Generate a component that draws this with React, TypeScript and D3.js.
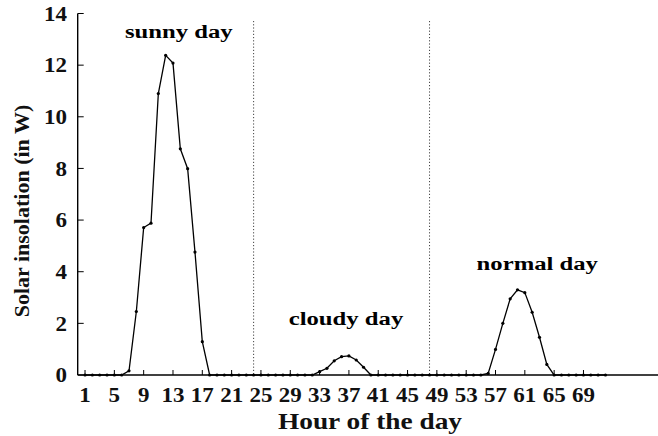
import React from "react";
import * as d3 from "d3";

const sunny = [0, 0, 0, 0, 0, 0, 0.16, 2.46, 5.71, 5.88, 10.9, 12.38, 12.08, 8.76, 7.99, 4.76, 1.29, 0, 0, 0, 0, 0, 0, 0];
const cloudy = [0, 0, 0, 0, 0, 0, 0, 0, 0.13, 0.26, 0.55, 0.71, 0.74, 0.58, 0.3, 0, 0, 0, 0, 0, 0, 0, 0, 0];
const normal = [0, 0, 0, 0, 0, 0, 0, 0.06, 0.99, 2.0, 2.95, 3.3, 3.19, 2.43, 1.46, 0.41, 0, 0, 0, 0, 0, 0, 0, 0];
const xTicks = [1, 5, 9, 13, 17, 21, 25, 29, 33, 37, 41, 45, 49, 53, 57, 61, 65, 69];
const yTicks = [0, 2, 4, 6, 8, 10, 12, 14];
const dayBreaks = [24, 48];
const dayLabels = ["sunny day", "cloudy day", "normal day"];
const labelHours = [13.8, 36.6, 62.7];
const labelValues = [13.05, 1.94, 4.07];

const values = [...sunny, ...cloudy, ...normal];
const data = values.map((v, i) => ({ h: i + 1, v }));

const W = 658, H = 436;
const FONT = "'Liberation Serif', 'Times New Roman', serif";

export default function App() {
  const x = d3.scaleLinear().domain([0, 80]).range([77.7, 77.7 + 80 * 7.33]);
  const y = d3.scaleLinear().domain([0, 14]).range([375, 13.5]);
  const line = d3.line<{ h: number; v: number }>().x(d => x(d.h)).y(d => y(d.v));

  return (
    <svg width={W} height={H} style={{ position: "absolute", left: 0, top: 0, background: "#fff" }}>
      <line x1={x(0)} x2={W} y1={y(0)} y2={y(0)} stroke="#000" strokeWidth={1.4} />
      <line x1={x(0)} x2={x(0)} y1={y(0)} y2={y(14)} stroke="#000" strokeWidth={1.4} />
      {yTicks.map(t => (
        <g key={"y" + t}>
          <line x1={x(0)} x2={x(0) + 6} y1={y(t)} y2={y(t)} stroke="#000" strokeWidth={1} />
          <text transform={`translate(67,${y(t) + 7.3}) scale(1.15,1)`} textAnchor="end"
            fontFamily={FONT} fontWeight="bold" fontSize={20} fill="#111">{t}</text>
        </g>
      ))}
      {xTicks.map(t => (
        <g key={"x" + t}>
          <line x1={x(t)} x2={x(t)} y1={y(0)} y2={y(0) - 5} stroke="#000" strokeWidth={1} />
          <text transform={`translate(${x(t)},402) scale(1.15,1)`} textAnchor="middle"
            fontFamily={FONT} fontWeight="bold" fontSize={20} fill="#111">{t}</text>
        </g>
      ))}
      {dayBreaks.map(b => (
        <line key={"b" + b} x1={x(b)} x2={x(b)} y1={21} y2={y(0)} stroke="#444" strokeWidth={1} strokeDasharray="1.2,2" />
      ))}
      <path d={line(data) || ""} fill="none" stroke="#000" strokeWidth={1.3} />
      {data.map(d => (
        <circle key={"p" + d.h} cx={x(d.h)} cy={y(d.v)} r={1.6} fill="#000" />
      ))}
      {dayLabels.map((l, i) => (
        <text key={l} transform={`translate(${x(labelHours[i])},${y(labelValues[i])}) scale(1.3,1)`} textAnchor="middle"
          fontFamily={FONT} fontWeight="bold" fontSize={19} fill="#000">{l}</text>
      ))}
      <text transform={`translate(370,429) scale(1.14,1)`} textAnchor="middle"
        fontFamily={FONT} fontWeight="bold" fontSize={24} fill="#111">Hour of the day</text>
      <text transform={`translate(29,211) rotate(-90)`} textAnchor="middle"
        fontFamily={FONT} fontWeight="bold" fontSize={22} fill="#111">Solar insolation (in W)</text>
    </svg>
  );
}
